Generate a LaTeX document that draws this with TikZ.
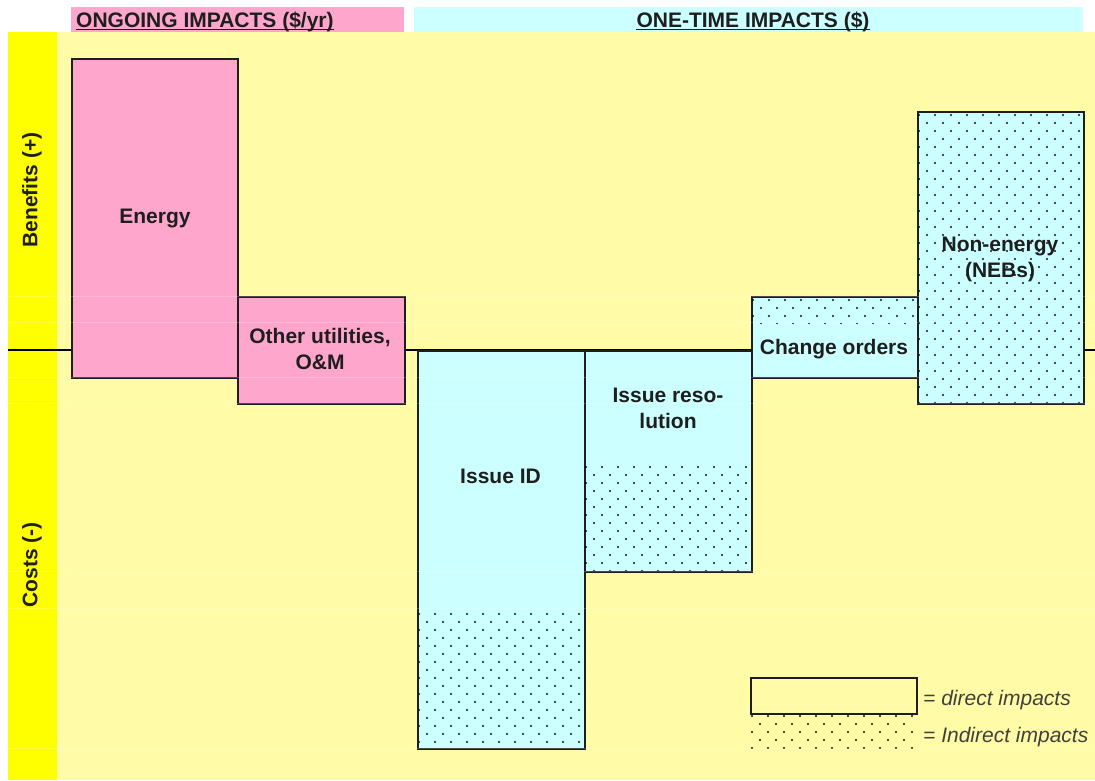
\documentclass[tikz,border=0pt]{standalone}
\usepackage{fontspec}
\setmainfont{Liberation Sans}
\definecolor{bgyellow}{HTML}{FFFBA6}
\definecolor{stripyellow}{HTML}{FFFF00}
\definecolor{pinkc}{HTML}{FFA6CC}
\definecolor{cyanc}{HTML}{CCFFFF}
\definecolor{edgec}{HTML}{1E1E1E}
\definecolor{dotc}{HTML}{111111}
\definecolor{txtc}{HTML}{1E1E1E}
\newcommand\mydotfill[4]{%
  \begin{scope}
    \clip (#1,#2) rectangle (#3,#4);
    \pgfmathtruncatemacro\nrows{((#4)-(#2))/8+1}
    \pgfmathtruncatemacro\ncols{((#3)-(#1))/16+1}
    \foreach \j in {0,...,\nrows}{
      \foreach \i in {0,...,\ncols}{
        \fill[dotc] ({#1+2+16*\i+8*mod(\j,2)},{#2+4+8*\j}) circle (1.1pt);
      }
    }
  \end{scope}}
\begin{document}
\begin{tikzpicture}[x=1pt,y=-1pt,
  box/.style={draw=edgec,line width=2pt,inner sep=0pt,anchor=north west},
  hdr/.style={inner sep=0pt,anchor=north west},
  hdrtxt/.style={inner sep=0pt,text=txtc,font=\bfseries\fontsize{21}{25}\selectfont},
  lbl/.style={inner sep=0pt,align=center,text=txtc,font=\bfseries\fontsize{21}{26}\selectfont},
  sidelbl/.style={inner sep=0pt,rotate=90,text=txtc,font=\bfseries\fontsize{21}{25}\selectfont},
  legtxt/.style={inner sep=0pt,anchor=base west,text=txtc!85!white,font=\itshape\fontsize{21}{25}\selectfont},
  faint/.style={white,opacity=0.2,line width=0.7pt}]
\useasboundingbox (0,0) rectangle (1095,780);
\fill[white] (0,0) rectangle (1095,780);
% panel
\fill[bgyellow] (8,32) rectangle (1095,780);
\fill[stripyellow] (8,32) rectangle (57,780);
% axis
\coordinate (axL) at (8,350);
\coordinate (axR) at (1095,350);
\draw[black,line width=2.6pt] (axL) -- (axR);
% headers
\node[hdr,fill=pinkc,minimum width=333pt,minimum height=25pt] (hdr1) at (71,7) {};
\node[hdr,fill=cyanc,minimum width=669pt,minimum height=25pt] (hdr2) at (414,7) {};
\node[hdrtxt,anchor=base west] (h1) at (76,27) {ONGOING IMPACTS (\$/yr)};
\node[hdrtxt,anchor=base] (h2) at (753,27) {ONE-TIME IMPACTS (\$)};
\draw[txtc,line width=1.6pt] ([yshift=-2.5pt]h1.base west) -- ([yshift=-2.5pt]h1.base east);
\draw[txtc,line width=1.6pt] ([yshift=-2.5pt]h2.base west) -- ([yshift=-2.5pt]h2.base east);
% side labels
\node[sidelbl] (ben) at (32,190) {Benefits (+)};
\node[sidelbl] (cost) at (32,565) {Costs (-)};
% boxes
\node[box,fill=pinkc,minimum width=166pt,minimum height=319pt] (energy) at (71,58) {};
\node[box,fill=pinkc,minimum width=167pt,minimum height=107pt] (other) at (237,296) {};
\node[box,fill=cyanc,minimum width=167pt,minimum height=398pt] (issueid) at (417,350) {};
\mydotfill{417}{610}{584}{748}
\node[box,fill=cyanc,minimum width=167pt,minimum height=221pt] (issueres) at (584,350) {};
\mydotfill{584}{463}{751}{571}
\node[box,fill=cyanc,minimum width=166pt,minimum height=81pt] (change) at (751,296) {};
\mydotfill{751}{296}{917}{323}
\node[box,fill=cyanc,minimum width=166pt,minimum height=292pt] (noneng) at (917,111) {};
\mydotfill{917}{111}{1083}{403}
% labels
\node[lbl] (energytxt) at (155,218.5) {Energy};
\node[lbl] (othertxt) at (320,348.5) {Other utilities,\\O\&M};
\node[lbl] (issueidtxt) at (500.5,476.5) {Issue ID};
\node[lbl] (issuerestxt) at (668,408) {Issue reso-\\lution};
\node[lbl] (changetxt) at (834,349.5) {Change orders};
\node[lbl] (nonengtxt) at (1000,259) {Non-energy\\(NEBs)};
% legend
\node[box,fill=bgyellow,minimum width=166pt,minimum height=36pt] (legd) at (750,677) {};
\mydotfill{750}{712}{916}{748}
\node[legtxt] (legdtxt) at (923,705) {= direct impacts};
\node[legtxt] (legitxt) at (923,742) {= Indirect impacts};
% faint grid lines
\foreach \yy in {296,322,377,403,571,608,748}{
  \draw[faint] (8,\yy) -- (1095,\yy);
}
\end{tikzpicture}
\end{document}
